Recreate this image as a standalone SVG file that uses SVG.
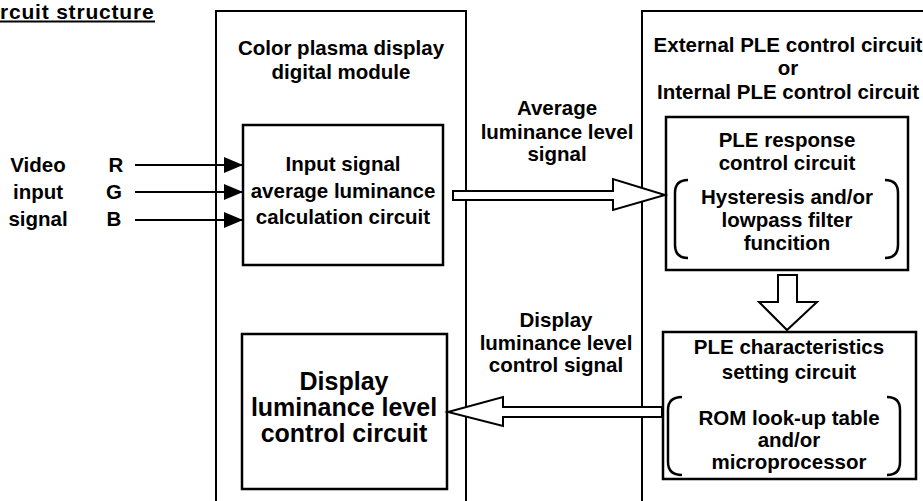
<svg xmlns="http://www.w3.org/2000/svg" width="923" height="501" viewBox="0 0 923 501">
<style>
text { font-family: "Liberation Sans", Arial, sans-serif; font-weight: bold; fill: #000; }
.t { font-size: 20.5px; text-anchor: middle; }
.big { font-size: 25px; text-anchor: middle; }
.title { font-size: 21px; letter-spacing: 0.8px; }
.outer { fill: none; stroke: #000; stroke-width: 2; }
.box { fill: #fff; stroke: #000; stroke-width: 2.5; }
.brk { fill: none; stroke: #000; stroke-width: 2.5; }
.sig { fill: none; stroke: #000; stroke-width: 2; }
.blk { fill: #fff; stroke: #000; stroke-width: 2; stroke-linejoin: miter; }
</style>
<defs>
<marker id="tri" markerUnits="userSpaceOnUse" markerWidth="20" markerHeight="18" refX="19" refY="9" orient="auto">
<path d="M0,1 L19,9 L0,17 z" fill="#000"/>
</marker>
</defs>
<rect width="923" height="501" fill="#fff"/>

<g id="title">
<text class="title" x="0" y="19">rcuit structure</text>
<line x1="0" y1="21.5" x2="155" y2="21.5" stroke="#000" stroke-width="2"/>
</g>

<g id="module">
<rect class="outer" x="216" y="11" width="250" height="500"/>
<text class="t" x="341" y="55">Color plasma display</text>
<text class="t" x="341" y="79">digital module</text>
</g>

<g id="ple-control">
<rect class="outer" x="642" y="11" width="300" height="500"/>
<text class="t" x="788" y="52">External PLE control circuit</text>
<text class="t" x="788" y="75">or</text>
<text class="t" x="788" y="99">Internal PLE control circuit</text>
</g>

<g id="video-input">
<text class="t" x="38" y="172">Video</text>
<text class="t" x="38" y="199">input</text>
<text class="t" x="38" y="226">signal</text>
<text class="t" x="116" y="172">R</text>
<text class="t" x="114" y="199">G</text>
<text class="t" x="114" y="226">B</text>
</g>

<g id="input-calc">
<rect class="box" x="243" y="125" width="200" height="140"/>
<text class="t" x="343" y="171">Input signal</text>
<text class="t" x="343" y="198">average luminance</text>
<text class="t" x="343" y="224">calculation circuit</text>
</g>

<g id="display-control">
<rect class="box" x="242" y="334" width="205" height="155"/>
<text class="big" x="344" y="390">Display</text>
<text class="big" x="344" y="416">luminance level</text>
<text class="big" x="344" y="442">control circuit</text>
</g>

<g id="ple-response">
<rect class="box" x="666" y="117" width="242" height="153"/>
<text class="t" x="787" y="147">PLE response</text>
<text class="t" x="787" y="170">control circuit</text>
<path class="brk" d="M688,180 Q675,180 675,193 L675,245 Q675,258 688,258"/>
<path class="brk" d="M885,180 Q898,180 898,193 L898,245 Q898,258 885,258"/>
<text class="t" x="787" y="204">Hysteresis and/or</text>
<text class="t" x="787" y="227">lowpass filter</text>
<text class="t" x="787" y="250">funcition</text>
</g>

<g id="ple-characteristics">
<rect class="box" x="663" y="332" width="253" height="147"/>
<text class="t" x="789" y="354">PLE characteristics</text>
<text class="t" x="789" y="379">setting circuit</text>
<path class="brk" d="M682,397 Q668,397 668,410 L668,462 Q668,475 682,475"/>
<path class="brk" d="M887,397 Q900,397 900,410 L900,462 Q900,475 887,475"/>
<text class="t" x="789" y="425">ROM look-up table</text>
<text class="t" x="789" y="447">and/or</text>
<text class="t" x="789" y="469">microprocessor</text>
</g>

<g id="connectors">
<line class="sig" x1="135" y1="165" x2="243" y2="165" marker-end="url(#tri)"/>
<line class="sig" x1="135" y1="192" x2="243" y2="192" marker-end="url(#tri)"/>
<line class="sig" x1="135" y1="220" x2="243" y2="220" marker-end="url(#tri)"/>
<polygon class="blk" points="453,191 613,191 613,179 665,195 613,210 613,200 453,200"/>
<polygon class="blk" points="778,275 797,275 797,302 817,302 787,330 759,302 778,302"/>
<polygon class="blk" points="662,407 503,407 503,397 448,412 503,426 503,417 662,417"/>
<text class="t" x="557" y="115">Average</text>
<text class="t" x="557" y="139">luminance level</text>
<text class="t" x="557" y="161">signal</text>
<text class="t" x="556" y="327">Display</text>
<text class="t" x="556" y="350">luminance level</text>
<text class="t" x="556" y="372">control signal</text>
</g>
</svg>
